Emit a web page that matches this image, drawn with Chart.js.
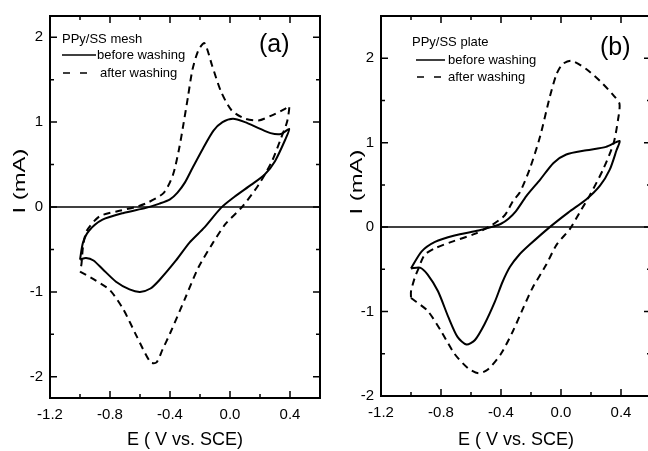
<!DOCTYPE html>
<html>
<head>
<meta charset="utf-8">
<script src="https://cdn.jsdelivr.net/npm/chart.js@4.4.0/dist/chart.umd.min.js"></script>
<style>
  html, body { margin: 0; padding: 0; background: #fff; overflow: hidden; width: 648px; height: 451px; }
  #meshChart { position: absolute; left: 0; top: 0; }
  #plateChart { position: absolute; left: 330px; top: 0; }
</style>
</head>
<body>
<canvas id="meshChart" width="330" height="451"></canvas>
<canvas id="plateChart" width="330" height="451"></canvas>
<script>
// (a) PPy/SS mesh
const meshBeforeE = [-1.0, -0.98, -0.94, -0.85, -0.71, -0.56, -0.47, -0.40, -0.35, -0.30, -0.25, -0.18, -0.11, -0.05, 0.02, 0.10, 0.19, 0.27, 0.34, 0.395,
    0.37, 0.30, 0.23, 0.14, 0.03, -0.06, -0.17, -0.27, -0.36, -0.47, -0.53, -0.60, -0.67, -0.76, -0.85, -0.91, -0.96, -1.0];
const meshBeforeI = [-0.62, -0.42, -0.28, -0.15, -0.07, -0.01, 0.04, 0.09, 0.17, 0.29, 0.46, 0.69, 0.90, 1.00, 1.04, 1.00, 0.93, 0.87, 0.86, 0.92,
    0.80, 0.54, 0.38, 0.26, 0.12, -0.01, -0.24, -0.42, -0.63, -0.86, -0.96, -1.00, -0.97, -0.88, -0.73, -0.63, -0.60, -0.62];
const meshAfterE = [-1.0, -0.91, -0.80, -0.71, -0.62, -0.53, -0.49, -0.45, -0.40, -0.30, -0.21, -0.12, -0.03, 0.08, 0.19, 0.28, 0.34, 0.38, 0.395,
    0.37, 0.28, 0.19, 0.10, 0.01, -0.06, -0.12, -0.17, -0.21, -0.25, -0.28, -0.31, -0.34, -0.38, -0.44, -0.55, -0.63, -0.75, -0.87, -0.955, -0.98, -0.99, -1.0];
const meshAfterI = [-0.76, -0.85, -0.98, -1.21, -1.53, -1.83, -1.83, -1.68, -1.49, -1.08, -0.71, -0.44, -0.20, 0.0, 0.26, 0.54, 0.81, 1.0, 1.19,
    1.16, 1.08, 1.02, 1.04, 1.14, 1.36, 1.67, 1.93, 1.85, 1.62, 1.30, 0.98, 0.68, 0.38, 0.17, 0.05, 0.0, -0.05, -0.11, -0.28, -0.47, -0.67, -0.76];

// (b) PPy/SS plate
const plateBeforeE = [-1.0, -0.93, -0.84, -0.71, -0.55, -0.465, -0.40, -0.35, -0.30, -0.23, -0.14, -0.05, 0.035, 0.17, 0.30, 0.39,
    0.37, 0.325, 0.26, 0.17, 0.05, -0.075, -0.21, -0.28, -0.34, -0.39, -0.44, -0.51, -0.575, -0.63, -0.69, -0.75, -0.82, -0.89, -0.94, -1.0];
const plateBeforeI = [-0.49, -0.29, -0.175, -0.10, -0.04, 0.0, 0.04, 0.10, 0.19, 0.37, 0.56, 0.76, 0.86, 0.91, 0.95, 1.02,
    0.91, 0.68, 0.49, 0.33, 0.175, 0.0, -0.21, -0.33, -0.47, -0.65, -0.88, -1.15, -1.34, -1.39, -1.30, -1.07, -0.76, -0.56, -0.48, -0.49];
const plateAfterE = [-1.0, -0.89, -0.80, -0.71, -0.62, -0.55, -0.49, -0.40, -0.32, -0.25, -0.19, -0.10, -0.03, 0.06, 0.125, 0.19, 0.28, 0.35, 0.38, 0.39,
    0.35, 0.26, 0.17, 0.07, 0.01, -0.03, -0.075, -0.14, -0.21, -0.275, -0.32, -0.375, -0.465, -0.575, -0.73, -0.84, -0.91, -0.95, -0.975, -1.0, -1.0];
const plateAfterI = [-0.84, -0.99, -1.23, -1.50, -1.67, -1.73, -1.69, -1.50, -1.23, -0.95, -0.72, -0.45, -0.21, -0.02, 0.175, 0.37, 0.68, 0.99, 1.27, 1.46,
    1.56, 1.73, 1.87, 1.97, 1.93, 1.81, 1.54, 1.07, 0.68, 0.41, 0.31, 0.14, 0.02, -0.08, -0.175, -0.25, -0.33, -0.49, -0.60, -0.76, -0.84];

// ticks
const xLabelTicks = [-1.2, -0.8, -0.4, 0.0, 0.4];
const xAllTicks = [-1.2, -1.0, -0.8, -0.6, -0.4, -0.2, 0.0, 0.2, 0.4, 0.6];
const yLabelTicks = [-2, -1, 0, 1, 2];
const yAllTicks = [-2, -1.5, -1, -0.5, 0, 0.5, 1, 1.5, 2, 2.5];

const FONT = '"Liberation Sans", Arial, Helvetica, sans-serif';

function toPoints(xs, ys) {
    return xs.map((x, i) => ({ x: x, y: ys[i] }));
}

function isMajor(list, v) {
    return list.some(t => Math.abs(t - v) < 1e-6);
}

// frame, zero line, inward ticks on all four sides
const framePlugin = {
    id: 'frame',
    beforeDatasetsDraw(chart) {
        const { ctx, chartArea: a, scales: { x, y } } = chart;
        ctx.save();
        ctx.strokeStyle = '#000';
        ctx.lineWidth = 1.5;
        const y0 = y.getPixelForValue(0);
        ctx.beginPath();
        ctx.moveTo(a.left, y0);
        ctx.lineTo(a.right, y0);
        ctx.stroke();

        ctx.beginPath();
        xAllTicks.forEach(v => {
            const px = x.getPixelForValue(v);
            const len = isMajor(xLabelTicks, v) ? 7 : 4;
            ctx.moveTo(px, a.bottom); ctx.lineTo(px, a.bottom - len);
            ctx.moveTo(px, a.top); ctx.lineTo(px, a.top + len);
        });
        yAllTicks.forEach(v => {
            if (v < y.min || v > y.max) return;
            const py = y.getPixelForValue(v);
            const len = isMajor(yLabelTicks, v) ? 7 : 4;
            ctx.moveTo(a.left, py); ctx.lineTo(a.left + len, py);
            ctx.moveTo(a.right, py); ctx.lineTo(a.right - len, py);
        });
        ctx.stroke();

        ctx.lineWidth = 2;
        ctx.strokeRect(a.left, a.top, a.right - a.left, a.bottom - a.top);
        ctx.restore();
    }
};

// legend block, panel letter, and the (stretched) y title
const notePlugin = {
    id: 'note',
    afterDraw(chart, args, opts) {
        const { ctx, chartArea: a } = chart;
        const l = opts.legend;
        ctx.save();
        ctx.fillStyle = '#000';
        ctx.strokeStyle = '#000';
        ctx.textBaseline = 'middle';
        ctx.font = '13px ' + FONT;
        ctx.fillText(opts.title, a.left + l.titleX, a.top + l.titleY);
        ctx.fillText('before washing', a.left + l.textX, a.top + l.row1);
        ctx.fillText('after washing', a.left + l.text2X, a.top + l.row2);
        ctx.lineWidth = 1.5;
        ctx.beginPath();
        ctx.moveTo(a.left + l.lineX0, a.top + l.row1);
        ctx.lineTo(a.left + l.lineX1, a.top + l.row1);
        ctx.stroke();
        ctx.setLineDash([7, 10]);
        ctx.beginPath();
        ctx.moveTo(a.left + l.lineX0 + 1, a.top + l.row2);
        ctx.lineTo(a.left + l.lineX0 + 25, a.top + l.row2);
        ctx.stroke();
        ctx.setLineDash([]);
        ctx.font = '25px ' + FONT;
        ctx.fillText(opts.letter, a.left + l.letterX, a.top + l.letterY);

        // y axis title
        ctx.translate(opts.yTitleX, opts.yTitleY);
        ctx.rotate(-Math.PI / 2);
        ctx.scale(1.4, 1);
        ctx.textAlign = 'center';
        ctx.font = '17px ' + FONT;
        ctx.fillText('I (mA)', 0, 0);
        ctx.restore();
    }
};

function renderCv({ elementId, before, after, yMin, yMax, pad, yWidth, xHeight, note }) {
    const canvas = document.getElementById(elementId);
    const ctx = canvas.getContext('2d');

    new Chart(ctx, {
        type: 'scatter',
        data: {
            datasets: [{
                label: 'before washing',
                data: before,
                showLine: true,
                borderColor: '#000',
                borderWidth: 2,
                pointRadius: 0,
                tension: 0.25
            }, {
                label: 'after washing',
                data: after,
                showLine: true,
                borderColor: '#000',
                borderWidth: 2,
                borderDash: [7, 5],
                pointRadius: 0,
                tension: 0.25
            }]
        },
        options: {
            responsive: false,
            animation: false,
            layout: { padding: pad },
            plugins: {
                legend: { display: false },
                tooltip: { enabled: false },
                note: note
            },
            scales: {
                x: {
                    type: 'linear',
                    min: -1.2,
                    max: 0.6,
                    afterBuildTicks: s => { s.ticks = xLabelTicks.map(v => ({ value: v })); },
                    afterFit: s => { s.height = xHeight; },
                    grid: { display: false, drawTicks: false },
                    border: { display: false },
                    ticks: {
                        padding: 8,
                        color: '#000',
                        font: { family: FONT, size: 15 },
                        callback: v => v.toFixed(1)
                    },
                    title: {
                        display: true,
                        text: 'E ( V vs. SCE)',
                        color: '#000',
                        font: { family: FONT, size: 18 },
                        padding: { top: 0, bottom: 0 }
                    }
                },
                y: {
                    type: 'linear',
                    min: yMin,
                    max: yMax,
                    afterBuildTicks: s => { s.ticks = yLabelTicks.map(v => ({ value: v })); },
                    afterFit: s => { s.width = yWidth; },
                    grid: { display: false, drawTicks: false },
                    border: { display: false },
                    ticks: {
                        padding: 7,
                        color: '#000',
                        font: { family: FONT, size: 15 },
                        callback: v => String(v)
                    },
                    title: { display: false }
                }
            }
        },
        plugins: [framePlugin, notePlugin]
    });
}

renderCv({
    elementId: 'meshChart',
    before: toPoints(meshBeforeE, meshBeforeI),
    after: toPoints(meshAfterE, meshAfterI),
    yMin: -2.25,
    yMax: 2.25,
    pad: { left: 0, top: 14, right: 10, bottom: 0 },
    yWidth: 50,
    xHeight: 53,
    note: {
        title: 'PPy/SS mesh',
        letter: '(a)',
        yTitleX: 20,
        yTitleY: 181,
        legend: { titleX: 12, titleY: 23, lineX0: 12, lineX1: 46, textX: 47, text2X: 50, row1: 39, row2: 57, letterX: 209, letterY: 29 }
    }
});

renderCv({
    elementId: 'plateChart',
    before: toPoints(plateBeforeE, plateBeforeI),
    after: toPoints(plateAfterE, plateAfterI),
    yMin: -2,
    yMax: 2.5,
    pad: { left: 0, top: 11, right: 9, bottom: 0 },
    yWidth: 51,
    xHeight: 55,
    note: {
        title: 'PPy/SS plate',
        letter: '(b)',
        yTitleX: 27,
        yTitleY: 182,
        legend: { titleX: 31, titleY: 26, lineX0: 35, lineX1: 64, textX: 67, text2X: 67, row1: 44, row2: 61, letterX: 219, letterY: 32 }
    }
});
</script>
</body>
</html>
